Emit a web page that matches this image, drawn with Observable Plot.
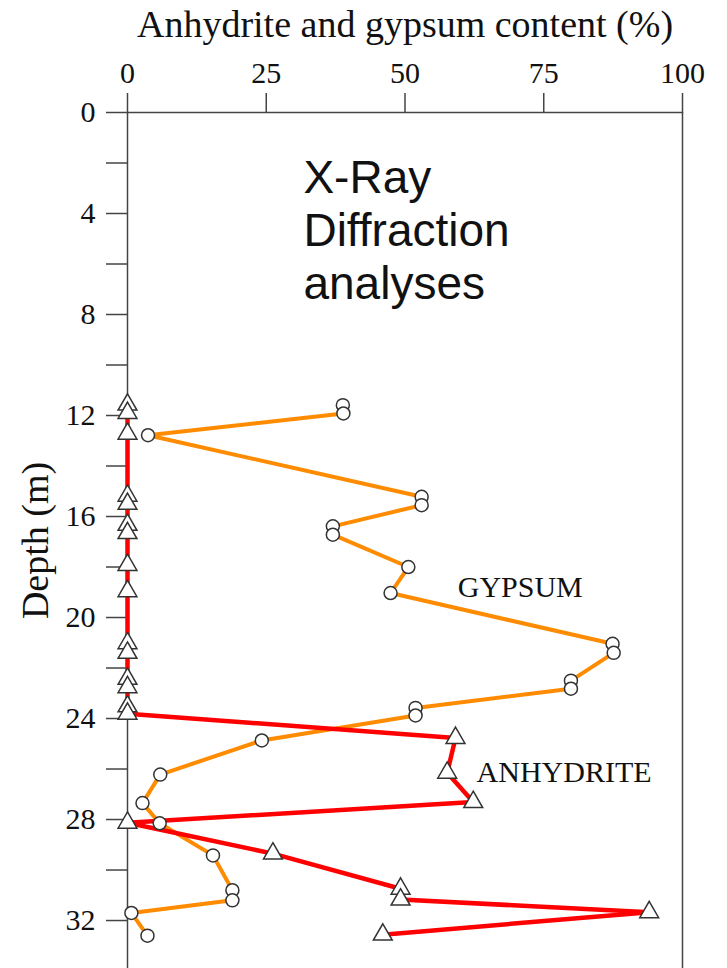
<!DOCTYPE html>
<html>
<head>
<meta charset="utf-8">
<script src="https://cdn.jsdelivr.net/npm/d3@7"></script>
<script src="https://cdn.jsdelivr.net/npm/@observablehq/plot@0.6"></script>
<style>
  html, body { margin: 0; padding: 0; background: #fff; }
  #chart { width: 727px; height: 968px; overflow: hidden; }
</style>
</head>
<body>
<div id="chart"></div>
<script>
// Axis ticks
const contentTicks = [0, 25, 50, 75, 100];
const depthTicks = [0, 2, 4, 6, 8, 10, 12, 14, 16, 18, 20, 22, 24, 26, 28, 30, 32];
const depthTickLabels = [0, 4, 8, 12, 16, 20, 24, 28, 32];

// Gypsum content (%) by sample depth (m)
const gypsumDepth = [11.59, 11.92, 12.78, 15.22, 15.55, 16.39, 16.72, 18.0, 19.03, 21.04, 21.4, 22.5, 22.82, 23.58, 23.88, 24.87, 26.22, 27.35, 28.15, 29.42, 30.8, 31.2, 31.7, 32.6];
const gypsumContent = [38.8, 38.9, 3.7, 53.0, 53.0, 37.0, 37.0, 50.6, 47.4, 87.4, 87.6, 79.9, 79.9, 51.9, 51.9, 24.2, 5.9, 2.7, 5.8, 15.4, 18.9, 18.9, 0.7, 3.6];

// Anhydrite content (%) by sample depth (m)
const anhydriteDepth = [11.57, 11.9, 12.72, 15.18, 15.5, 16.33, 16.66, 17.92, 18.96, 21.02, 21.4, 22.43, 22.76, 23.52, 23.81, 24.77, 26.15, 27.31, 28.13, 29.35, 30.74, 31.17, 31.67, 32.56];
const anhydriteContent = [0, 0, 0, 0, 0, 0, 0, 0, 0, 0, 0, 0, 0, 0, 0, 59.1, 57.6, 62.3, 0, 26.2, 49.2, 49.2, 94.0, 46.0];

const gypsum = gypsumDepth.map((depth, i) => ({depth, content: gypsumContent[i]}));
const anhydrite = anhydriteDepth.map((depth, i) => ({depth, content: anhydriteContent[i]}));

const serif = "'Liberation Serif', 'Times New Roman', serif";
const sans = "'Liberation Sans', Arial, sans-serif";

const chart = Plot.plot({
  width: 727,
  height: 968,
  marginTop: 112,
  marginLeft: 127,
  marginRight: 45,
  marginBottom: 0,
  style: {fontFamily: serif, fontSize: "30px", color: "#111", background: "#fff", overflow: "visible"},
  x: {domain: [0, 100]},
  y: {domain: [0, 33.9], reverse: true},
  marks: [
    Plot.axisX({anchor: "top", ticks: contentTicks, tickSize: 20, tickPadding: 10, label: null, fontSize: 30, stroke: "#444", strokeWidth: 1.5}),
    Plot.axisY({anchor: "left", ticks: depthTicks, tickSize: 21, tickPadding: 11, label: null, fontSize: 30, stroke: "#444", strokeWidth: 1.5,
      tickFormat: d => depthTickLabels.includes(d) ? String(d) : ""}),
    Plot.ruleX([0, 100], {stroke: "#444", strokeWidth: 1.5}),
    Plot.ruleY([0], {stroke: "#444", strokeWidth: 1.5}),
    Plot.line(gypsum, {x: "content", y: "depth", stroke: "#ff8c00", strokeWidth: 4}),
    Plot.line(anhydrite, {x: "content", y: "depth", stroke: "#ff0000", strokeWidth: 4.5}),
    Plot.dot(gypsum, {x: "content", y: "depth", r: 6.5, fill: "#fff", stroke: "#333", strokeWidth: 1.5}),
    Plot.dot(anhydrite, {x: "content", y: "depth", r: 7, symbol: "triangle", fill: "#fff", stroke: "#333", strokeWidth: 1.5}),
    Plot.text(["Anhydrite and gypsum content (%)"], {frameAnchor: "top", lineAnchor: "middle", textAnchor: "middle", dy: -88, fontSize: 38, fontFamily: serif}),
    Plot.text(["Depth (m)"], {frameAnchor: "left", lineAnchor: "middle", textAnchor: "middle", rotate: -90, dx: -92, fontSize: 38, fontFamily: serif}),
    Plot.text(["X-Ray\nDiffraction\nanalyses"], {x: 31.7, y: 1.7, textAnchor: "start", lineAnchor: "top", lineHeight: 1.15, fontSize: 46, fontFamily: sans}),
    Plot.text(["GYPSUM"], {x: 59.5, y: 18.8, textAnchor: "start", fontSize: 30, fontFamily: serif}),
    Plot.text(["ANHYDRITE"], {x: 62.9, y: 26.13, textAnchor: "start", fontSize: 30, fontFamily: serif})
  ]
});

document.getElementById("chart").append(chart);
</script>
</body>
</html>
